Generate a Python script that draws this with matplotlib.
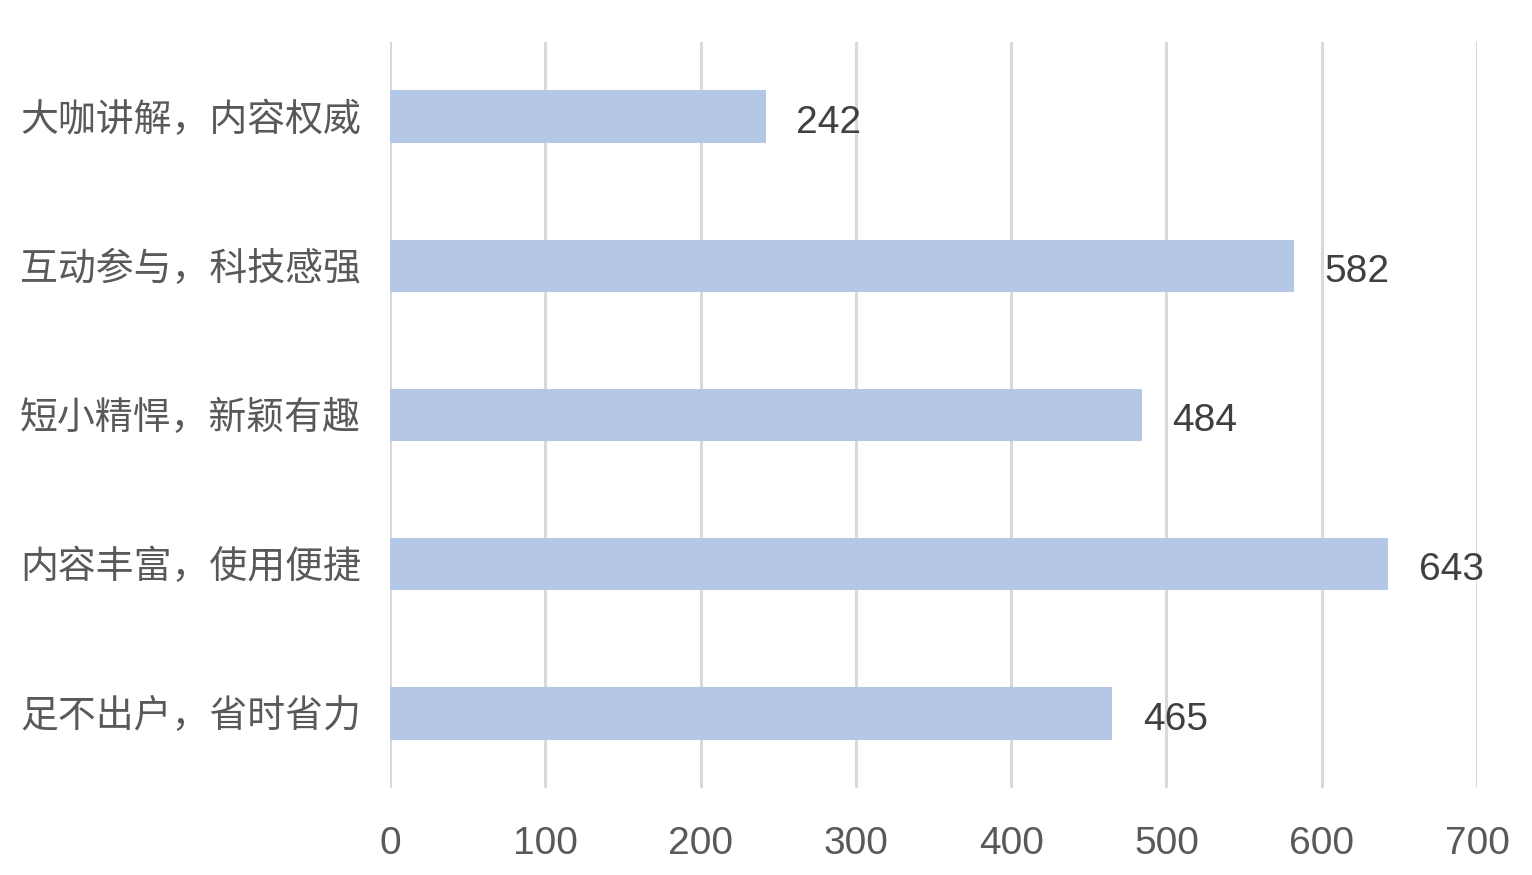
import matplotlib
matplotlib.use('Agg')
import matplotlib.pyplot as plt
import matplotlib.transforms as mtransforms

# 数据
categories = ['大咖讲解，内容权威', '互动参与，科技感强', '短小精悍，新颖有趣', '内容丰富，使用便捷', '足不出户，省时省力']
values = [242, 582, 484, 643, 465]
xticks = [0, 100, 200, 300, 400, 500, 600, 700]

plt.rcParams['font.family'] = ['Liberation Sans', 'Noto Sans CJK SC', 'DejaVu Sans']

fig = plt.figure(figsize=(15.32, 8.75), dpi=100)
ax = fig.add_axes([0.2546, 0.0994, 0.7095, 0.8526])

ypos = list(range(len(categories)))
ax.barh(ypos, values, height=0.35, color='#b4c7e7', zorder=3)

ax.set_ylim(len(categories) - 0.5, -0.5)
ax.set_xlim(0, 700)
ax.set_yticks(ypos)
ax.set_yticklabels(categories, fontsize=27.3, color='#595959')
ax.set_xticks(xticks)
ax.set_xticklabels([str(t) for t in xticks], fontsize=28, color='#595959')

# 类别标签稍微下移
offset = mtransforms.ScaledTranslation(0, -0.04, fig.dpi_scale_trans)
for lbl in ax.get_yticklabels():
    lbl.set_transform(lbl.get_transform() + offset)

# 数值标签
for y, v in zip(ypos, values):
    ax.annotate(str(v), xy=(v, y), xytext=(22, -4.5), textcoords='offset points',
                ha='left', va='center', fontsize=28, color='#404040')

# 网格线
ax.grid(True, axis='x', color='#d9d9d9', linewidth=2.2, zorder=0)
ax.tick_params(axis='x', length=0, pad=27)
ax.tick_params(axis='y', length=0, pad=21)
for s in ax.spines.values():
    s.set_visible(False)

fig.savefig('out.png', dpi=100)
